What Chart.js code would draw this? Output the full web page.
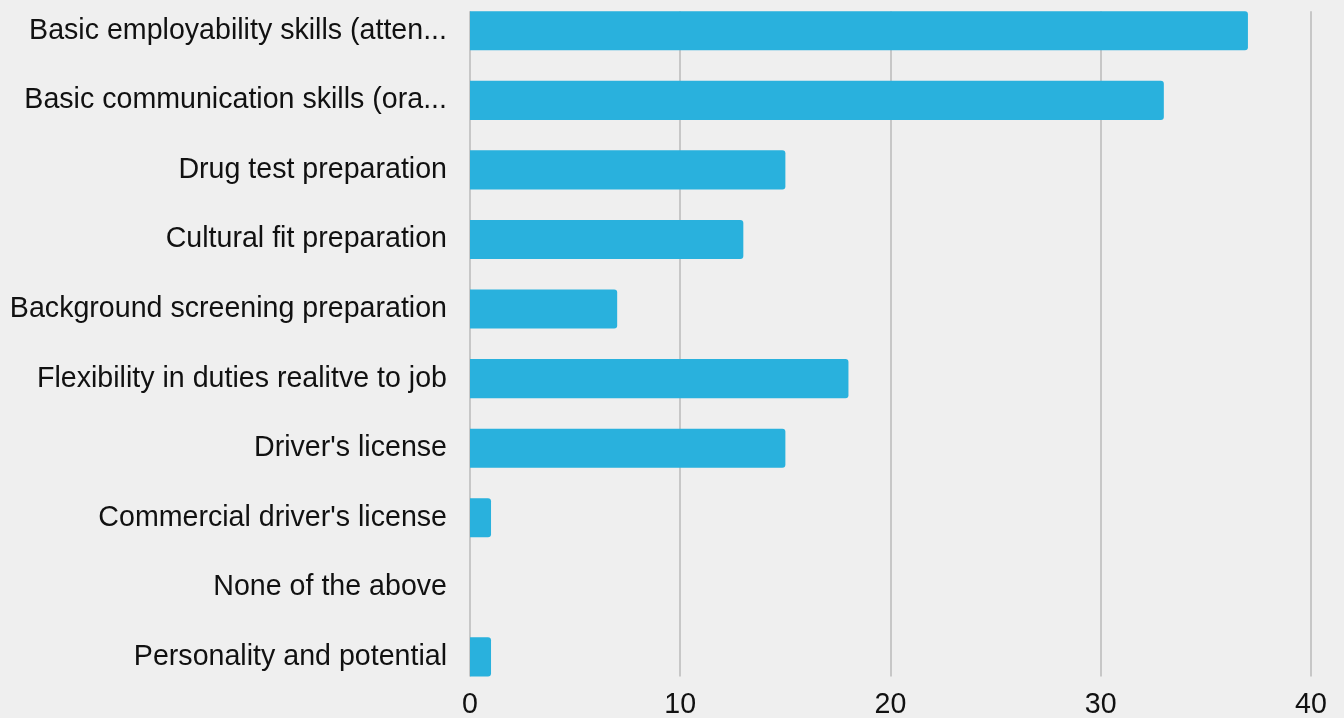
<!DOCTYPE html>
<html lang="en">
<head>
    <meta charset="UTF-8">
    <title>Job Readiness Training</title>
    <script src="https://cdn.jsdelivr.net/npm/chart.js"></script>
    <style>
        body, html {
            margin: 0;
            padding: 0;
            background: #efefef;
        }
        .wrap {
            position: relative;
            width: 1344px;
            height: 718px;
            overflow: hidden;
            background: #efefef;
        }
        .wrap canvas {
            position: absolute;
            left: 0;
            top: -30px;
        }
    </style>
</head>
<body>
    <div class="wrap">
        <canvas id="skillsChart" width="1344" height="780"></canvas>
    </div>

    <script>
        const categories = [
            'Basic employability skills (atten...',
            'Basic communication skills (ora...',
            'Drug test preparation',
            'Cultural fit preparation',
            'Background screening preparation',
            'Flexibility in duties realitve to job',
            "Driver's license",
            "Commercial driver's license",
            'None of the above',
            'Personality and potential'
        ];
        const responses = [37, 33, 15, 13, 7, 18, 15, 1, 0, 1];
        const xTicks = [0, 10, 20, 30, 40];

        // vertical grid lines only span from the first bar's top to the last bar's bottom
        const gridLines = {
            id: 'gridLines',
            beforeDatasetsDraw(chart) {
                const bars = chart.getDatasetMeta(0).data;
                if (!bars.length) return;
                const top = bars[0].y - bars[0].height / 2;
                const last = bars[bars.length - 1];
                const bottom = last.y + last.height / 2;
                const x = chart.scales.x;
                const ctx = chart.ctx;
                ctx.save();
                ctx.strokeStyle = '#bdbdbd';
                ctx.lineWidth = 1.6;
                xTicks.forEach(v => {
                    const px = Math.round(x.getPixelForValue(v));
                    ctx.beginPath();
                    ctx.moveTo(px, top);
                    ctx.lineTo(px, bottom);
                    ctx.stroke();
                });
                ctx.restore();
            }
        };

        const labelFont = { family: 'Liberation Sans, Arial, sans-serif', size: 28.6 };

        const ctx = document.getElementById('skillsChart').getContext('2d');
        const skillsChart = new Chart(ctx, {
            type: 'bar',
            data: {
                labels: categories,
                datasets: [{
                    label: 'Responses',
                    data: responses,
                    backgroundColor: '#29b1dd',
                    borderRadius: 3,
                    borderSkipped: 'start',
                    categoryPercentage: 1,
                    barPercentage: 0.562
                }]
            },
            options: {
                indexAxis: 'y',
                responsive: false,
                animation: false,
                layout: {
                    padding: { top: 26, right: 33, bottom: 32, left: 0 }
                },
                plugins: {
                    legend: { display: false },
                    tooltip: { enabled: false }
                },
                scales: {
                    x: {
                        min: 0,
                        max: 40,
                        afterBuildTicks(scale) {
                            scale.ticks = xTicks.map(v => ({ value: v }));
                        },
                        grid: { display: false, drawTicks: false },
                        border: { display: false },
                        ticks: {
                            padding: -4,
                            color: '#111',
                            font: labelFont
                        }
                    },
                    y: {
                        afterFit(scale) {
                            scale.width = 470;
                            scale.paddingTop = 0;
                            scale.paddingBottom = 0;
                        },
                        grid: { display: false, drawTicks: false },
                        border: { display: false },
                        ticks: {
                            padding: 23,
                            color: '#111',
                            autoSkip: false,
                            font: labelFont
                        }
                    }
                }
            },
            plugins: [gridLines]
        });
    </script>
</body>
</html>
